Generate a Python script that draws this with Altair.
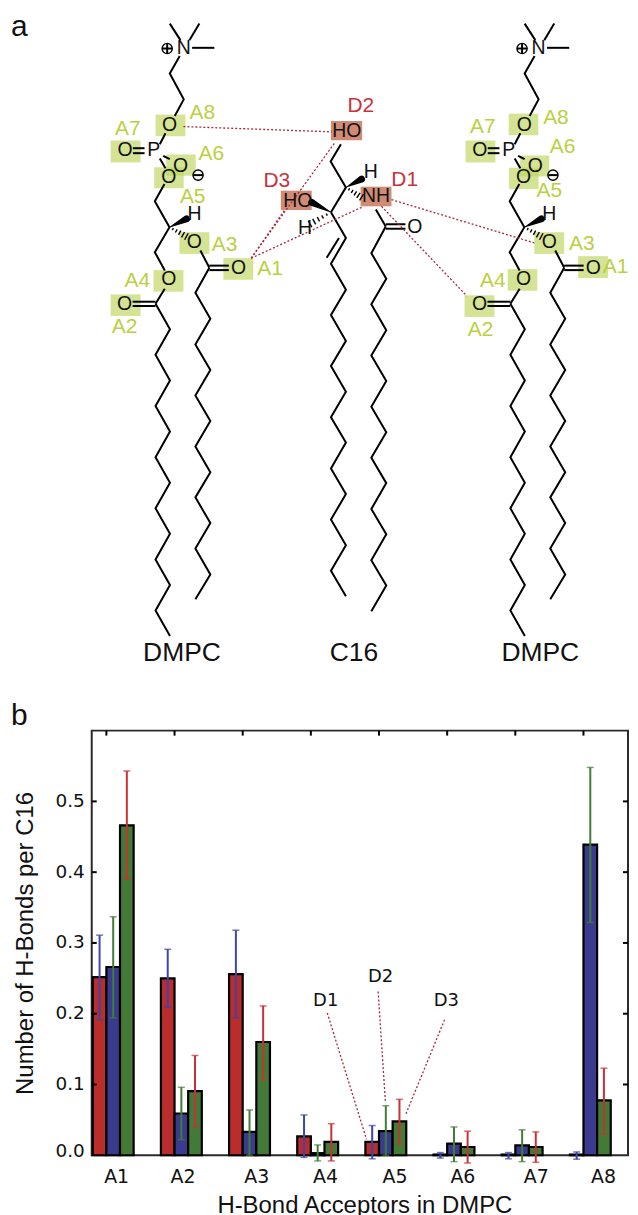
import altair as alt
import pandas as pd

FONT = "Liberation Sans"
TICK_FONT = "DejaVu Sans"

# ---------- Panel b data ----------
ACCEPTORS = [1, 2, 3, 4, 5, 6, 7, 8]
D1_VALS = [0.2516, 0.250, 0.256, 0.0268, 0.019, 0.001, 0.001, 0.001]
D2_VALS = [0.266, 0.059, 0.033, 0.003, 0.034, 0.0164, 0.014, 0.439]
D3_VALS = [0.466, 0.0906, 0.16, 0.019, 0.048, 0.0117, 0.0117, 0.0775]
D1_HI = [0.311, 0.291, 0.318, 0.057, 0.042, 0.0038, 0.0038, 0.0047]
D1_LO = [0.1915, 0.209, 0.194, -0.003, -0.005, -0.004, -0.005, -0.0056]
D2_HI = [0.337, 0.096, 0.064, 0.0146, 0.07, 0.04, 0.036, 0.548]
D2_LO = [0.194, 0.022, 0.0, -0.008, 0.0, -0.009, -0.009, 0.329]
D3_HI = [0.543, 0.141, 0.211, 0.0446, 0.079, 0.034, 0.033, 0.123]
D3_LO = [0.39, 0.04, 0.1066, -0.008, 0.016, -0.011, -0.01, 0.03]
X_LABEL_POS = [1.143, 2.116, 3.198, 4.207, 5.227, 6.223, 7.30, 8.287]
Y_TICKS = [0.0, 0.1, 0.2, 0.3, 0.4, 0.5]
BAR_NOTES = ["D1", "D2", "D3"]
BAR_NOTE_X = [4.218, 5.022, 5.987]
BAR_NOTE_Y = [0.2183, 0.2525, 0.2183]
NOTE_LINE_X = [4.241, 4.987, 5.962]
NOTE_LINE_Y = [0.201, 0.2314, 0.1915]
NOTE_LINE_X2 = [4.817, 5.095, 5.392]
NOTE_LINE_Y2 = [0.0225, 0.0742, 0.0577]

# ---------- Panel a data (diagram units) ----------
SHIFT = 356
HEAD_PATHS = [
    [(180, 37.3), (169.3, 20.7)],
    [(189, 37.3), (199, 20.7)],
    [(191.7, 45), (214, 45)],
    [(179.3, 53.3), (169.3, 70.7), (183.3, 96.7), (174.3, 113.3)],
    [(165, 130.7), (159.3, 141.7)],
    [(132.3, 145.7), (144, 145.7)],
    [(132.3, 150.7), (144, 150.7)],
    [(162.7, 153.3), (169.3, 156.7)],
    [(159.3, 156), (165, 165.7)],
    [(164, 181.7), (154.3, 199), (169, 225), (154.3, 250), (164.3, 268.3)],
    [(164.3, 286.7), (155, 301.7)],
    [(155, 299.7), (132, 299.7)],
    [(155, 304), (132, 304)],
    [(200, 248.3), (209, 265.7)],
    [(209, 263.5), (228.5, 263.5)],
    [(209, 268), (228.5, 268)],
    [(161.7, 45.7), (171.7, 45.7)],
    [(166.7, 41.2), (166.7, 50.2)],
    [(193, 172.7), (202.5, 172.7)],
]
CHAIN_A_X = [155, 169.5, 155, 169.5, 155, 169.5, 155, 169.5, 155, 169.5, 155, 169.5, 155, 169.5]
CHAIN_A_Y = [301.7, 327.3, 353, 378.7, 404.3, 430, 455.7, 481.3, 507, 532.6, 558.3, 584, 609.6, 635]
CHAIN_B_X = [209, 195, 210, 195, 210, 195, 210, 195, 210, 195, 210, 195, 210, 195]
CHAIN_B_Y = [265.7, 290.7, 316.7, 342.7, 368.3, 393.7, 419.3, 445, 470.7, 496, 521.7, 547.3, 573.3, 598.3]
C16_PATHS = [
    [(341, 141.7), (330.7, 159), (346, 185), (331, 210)],
    [(339, 235.7), (326.7, 255.7)],
    [(376, 207.3), (386, 224.3)],
    [(386, 222), (405.7, 222)],
    [(386, 226.5), (405.7, 226.5)],
]
C16_A_X = [331, 346, 331, 346, 331, 346, 331, 346, 331, 346, 331, 346, 331, 346, 331, 346]
C16_A_Y = [210, 235.7, 261.7, 287.7, 313, 339, 364.3, 390, 415.7, 441, 467, 492.7, 518.3, 544, 569.7, 595.3]
C16_B_X = [386, 371.5, 386.5, 371.5, 386.5, 371.5, 386.5, 371.5, 386.5, 371.5, 386.5, 371.5, 386.5, 371.5, 386.5, 371.5]
C16_B_Y = [224.3, 251, 276.7, 302.3, 328.3, 353.7, 379.3, 405, 430.7, 456.3, 481.7, 507.7, 533, 559, 584.3, 610.3]

WEDGES = [  # x0, y0, x1, y1
    (169, 225, 186, 216.7), (169 + SHIFT, 225, 186 + SHIFT, 216.7),
    (346, 185, 361.7, 176.7), (331, 210, 311.7, 200),
]
HASHES = [
    (169, 225, 186, 234.3), (169 + SHIFT, 225, 186 + SHIFT, 234.3),
    (346, 185, 361.7, 195), (331, 210, 310, 221.7),
]
CIRCLE_X = [166.7, 197.7, 522.7, 553.7]
CIRCLE_Y = [45.7, 172.7, 45.7, 172.7]

GREEN_BOXES = [
    (155, 112, 185, 133.7), (110, 138, 140, 160), (165.7, 152, 195.3, 173.3),
    (153.7, 164.7, 183.3, 186), (179, 230, 209, 251.7), (223, 256, 253, 277.7),
    (153, 268, 183, 289.7), (110, 292.3, 140, 314),
    (509.3, 111, 539, 132.7), (466, 138, 496, 160), (520.7, 153, 550, 174),
    (509.7, 165.3, 539.3, 186.7), (535, 230, 565, 251.7), (579, 254, 609, 276),
    (508.3, 267, 538, 288.7), (465, 293.3, 495, 315),
]
RED_BOXES = [(331, 118.3, 362.3, 137.7), (280.7, 188.3, 311.7, 207.7), (360.7, 184.3, 391.7, 204)]

ATOM_TEXT = ["N", "O", "P", "O", "O", "O", "O", "O", "O", "O", "H",
             "N", "O", "P", "O", "O", "O", "O", "O", "O", "O", "H",
             "HO", "HO", "NH", "O", "H", "H"]
ATOM_X = [183.3, 169, 153.3, 124.3, 180, 168.3, 194, 168.3, 124, 238.3, 194,
          539.3, 525, 509.3, 480.3, 536, 524.3, 550, 524.3, 480, 594.3, 550,
          347, 297.7, 376.3, 415, 371, 305]
ATOM_Y = [45, 122.7, 147.3, 147.7, 163.3, 174.3, 240, 277.3, 302.3, 265.7, 211.7,
          45, 122.7, 147.3, 147.7, 163.3, 174.3, 240, 277.3, 302.3, 265.7, 211.7,
          128.3, 198.3, 194, 225, 169.3, 225.7]

ACC_TEXT = ["A8", "A7", "A6", "A5", "A3", "A1", "A4", "A2"] * 2
ACC_X = [202, 127.3, 211, 192.3, 224.3, 270, 136.7, 124,
         556.7, 483.3, 563.3, 550, 582.7, 616.5, 493.3, 481]
ACC_Y = [110, 126, 151.7, 194.3, 243.3, 266.7, 279, 325,
         115.7, 124, 145, 189, 241.7, 265, 279, 328]

DON_TEXT = ["D2", "D3", "D1"]
DON_X = [361, 276.7, 405]
DON_Y = [103.3, 179, 177.7]

HB_X = [183, 251, 251, 251, 391.7, 381.7]
HB_Y = [124, 256, 256, 256, 197.3, 204]
HB_X2 = [331.7, 335, 284.3, 361.7, 535, 467.3]
HB_Y2 = [129.3, 140, 208, 205, 240.7, 294]

MOL_TEXT = ["DMPC", "C16", "DMPC"]
MOL_X = [181.5, 354, 541]
MOL_Y = [652, 652, 652]

PANEL_TEXT = ["a", "b"]
PANEL_X = [10, 10]
PANEL_Y = [33, 724]

PLOT_W = 538

# ---------- Build diagram tables ----------
def paths_frame():
    rows = []
    pid = 0
    def add(pts, dx=0):
        nonlocal pid
        for k, (x, y) in enumerate(pts):
            rows.append({"p": pid, "k": k, "x": x + dx, "y": y})
        pid += 1
    chain_a = list(zip(CHAIN_A_X, CHAIN_A_Y))
    chain_b = list(zip(CHAIN_B_X, CHAIN_B_Y))
    for dx in (0, SHIFT):
        for pts in HEAD_PATHS:
            add(pts, dx)
        add(chain_a, dx)
        add(chain_b, dx)
    for pts in C16_PATHS:
        add(pts)
    add(list(zip(C16_A_X, C16_A_Y)))
    add(list(zip(C16_B_X, C16_B_Y)))
    return pd.DataFrame(rows)


def wedge_frame():
    rows = []
    for i, (x0, y0, x1, y1) in enumerate(WEDGES):
        rows.append({"p": i, "k": 0, "x": x0, "y": y0, "w": 0.5})
        rows.append({"p": i, "k": 1, "x": x1, "y": y1, "w": 7})
    return pd.DataFrame(rows)


def hash_frame():
    rows = []
    for (x0, y0, x1, y1) in HASHES:
        dx, dy = x1 - x0, y1 - y0
        ln = (dx * dx + dy * dy) ** 0.5
        nx, ny = -dy / ln, dx / ln
        for j in range(1, 6):
            t = j / 5
            half = 0.5 + 3.2 * t
            cx, cy = x0 + dx * t, y0 + dy * t
            rows.append({"x": cx - nx * half, "y": cy - ny * half,
                         "x2": cx + nx * half, "y2": cy + ny * half})
    return pd.DataFrame(rows)


def box_frame(boxes):
    return pd.DataFrame(boxes, columns=["x", "y", "x2", "y2"])


DX = alt.Scale(domain=[91, 91 + PLOT_W])
DY = alt.Scale(domain=[700, 8])
PX = alt.X("x:Q", scale=DX, axis=None)
PY = alt.Y("y:Q", scale=DY, axis=None)


def text_layer(texts, xs, ys, size, color, align="center", baseline="middle"):
    df = pd.DataFrame({"x": xs, "y": ys, "t": texts})
    return alt.Chart(df).mark_text(font=FONT, fontSize=size, color=color, baseline=baseline,
                                   align=align).encode(x=PX, y=PY, text="t:N")


def box_layer(boxes, color, opacity):
    return alt.Chart(box_frame(boxes)).mark_rect(color=color, opacity=opacity).encode(
        x=PX, x2="x2:Q", y=PY, y2="y2:Q")


diagram = alt.layer(
    box_layer(GREEN_BOXES, "#bdd65a", 0.65),
    box_layer(RED_BOXES, "#d18b74", 1),
    alt.Chart(paths_frame()).mark_line(color="#000000", strokeWidth=2).encode(
        x=PX, y=PY, detail="p:N", order="k:Q"),
    alt.Chart(wedge_frame()).mark_trail(color="#000000").encode(
        x=PX, y=PY, detail="p:N", order="k:Q", size=alt.Size("w:Q", scale=None, legend=None)),
    alt.Chart(hash_frame()).mark_rule(color="#000000", strokeWidth=1.4).encode(
        x=PX, x2="x2:Q", y=PY, y2="y2:Q"),
    alt.Chart(pd.DataFrame({"x": CIRCLE_X, "y": CIRCLE_Y})).mark_point(
        shape="circle", filled=False, color="#000000", size=105, strokeWidth=1.4, opacity=1
    ).encode(x=PX, y=PY),
    alt.Chart(pd.DataFrame({"x": HB_X, "y": HB_Y, "x2": HB_X2, "y2": HB_Y2})).mark_rule(
        color="#a8283c", strokeWidth=1.3, strokeDash=[2, 2]).encode(
        x=PX, x2="x2:Q", y=PY, y2="y2:Q"),
    text_layer(ATOM_TEXT, ATOM_X, ATOM_Y, 19.5, "#111111"),
    text_layer(ACC_TEXT, ACC_X, ACC_Y, 21, "#bad03f"),
    text_layer(DON_TEXT, DON_X, DON_Y, 21, "#c8323c"),
    text_layer(MOL_TEXT, MOL_X, MOL_Y, 26.5, "#111111"),
    text_layer(PANEL_TEXT, PANEL_X, PANEL_Y, 30, "#111111", align="left", baseline="alphabetic"),
).properties(width=PLOT_W, height=692, view=alt.ViewConfig(stroke="transparent"))

# ---------- Bar panel ----------
BAR_W = 0.2
rows = []
for name, vals, lo_off in (("D1", D1_VALS, -0.2), ("D2", D2_VALS, 0.0), ("D3", D3_VALS, 0.2)):
    for a, v in zip(ACCEPTORS, vals):
        rows.append({"x": a + lo_off, "x2": a + lo_off + BAR_W, "y": v, "y0": 0.0, "d": name})
bars_df = pd.DataFrame(rows)

rows = []
for name, hi, lo, off in (("D1", D1_HI, D1_LO, -0.1), ("D2", D2_HI, D2_LO, 0.1), ("D3", D3_HI, D3_LO, 0.3)):
    for a, h, l in zip(ACCEPTORS, hi, lo):
        rows.append({"x": a + off, "hi": h, "lo": l, "d": name})
err_df = pd.DataFrame(rows)

BX = alt.Scale(domain=[0.785, 0.785 + PLOT_W / 68.375])
BY = alt.Scale(domain=[0, 0.6])
bar_colors = alt.Scale(domain=["D1", "D2", "D3"], range=["#b92d2d", "#3a3b8e", "#447a38"])
err_colors = alt.Scale(domain=["D1", "D2", "D3"], range=["#3c45a8", "#417d37", "#c83232"])

X_AXIS = alt.Axis(values=X_LABEL_POS, labelExpr="'A' + round(datum.value - 0.2)",
                  tickSize=0, domain=False, grid=False, labelFontSize=19, titleFontSize=24,
                  labelFont=TICK_FONT, titleFont=FONT, titleFontWeight="normal",
                  labelColor="#111111", titleColor="#111111", labelPadding=12, titlePadding=7,
                  labelOverlap=False, titleX=(91 + 638) / 2 - 91)
Y_AXIS = alt.Axis(values=Y_TICKS, format=".1f", tickSize=0, domain=False, grid=False,
                  labelFontSize=18.5, titleFontSize=24, labelFont=TICK_FONT, titleFont=FONT,
                  titleFontWeight="normal", labelColor="#111111", titleColor="#111111",
                  labelFlush=True, labelFlushOffset=6, labelOffset=-1,
                  labelPadding=7.5, titlePadding=17, labelOverlap=False)
X_TITLE = "H-Bond Acceptors in DMPC"
Y_TITLE = "Number of H-Bonds per C16"
bx = alt.X("x:Q", scale=BX, axis=X_AXIS, title=X_TITLE)
by = alt.Y("y:Q", scale=BY, axis=Y_AXIS, title=Y_TITLE)
by_hi = alt.Y("hi:Q", scale=BY, axis=Y_AXIS, title=Y_TITLE)
by_lo = alt.Y("lo:Q", scale=BY, axis=Y_AXIS, title=Y_TITLE)

bars = alt.Chart(bars_df).mark_rect(stroke="#000000", strokeWidth=2.2).encode(
    x=bx, x2="x2:Q", y=by, y2="y0:Q",
    fill=alt.Fill("d:N", scale=bar_colors, legend=None))

stems = alt.Chart(err_df).mark_rule(strokeWidth=2).encode(
    x=bx, y=by_hi, y2="lo:Q",
    color=alt.Color("d:N", scale=err_colors, legend=None))
caps_hi = alt.Chart(err_df).mark_tick(orient="horizontal", size=7, thickness=1.5).encode(
    x=bx, y=by_hi, color=alt.Color("d:N", scale=err_colors, legend=None))
caps_lo = alt.Chart(err_df).mark_tick(orient="horizontal", size=7, thickness=1.5).encode(
    x=bx, y=by_lo, color=alt.Color("d:N", scale=err_colors, legend=None))

top_ticks = alt.Chart(pd.DataFrame({"x": ACCEPTORS})).mark_rule(color="#000000", strokeWidth=2).encode(
    x=bx, y=alt.value(0), y2=alt.value(5))
left_ticks = alt.Chart(pd.DataFrame({"y": Y_TICKS[1:]})).mark_rule(color="#000000", strokeWidth=2).encode(
    y=by, x=alt.value(0), x2=alt.value(5))
right_ticks = alt.Chart(pd.DataFrame({"y": Y_TICKS[1:]})).mark_rule(color="#000000", strokeWidth=2).encode(
    y=by, x=alt.value(PLOT_W - 5), x2=alt.value(PLOT_W))

note_lines = alt.Chart(pd.DataFrame({"x": NOTE_LINE_X, "y": NOTE_LINE_Y, "x2": NOTE_LINE_X2, "y2": NOTE_LINE_Y2})
                       ).mark_rule(color="#a8283c", strokeWidth=1.3, strokeDash=[2, 2]).encode(
    x=bx, x2="x2:Q", y=by, y2="y2:Q")
note_text = alt.Chart(pd.DataFrame({"x": BAR_NOTE_X, "y": BAR_NOTE_Y, "t": BAR_NOTES})).mark_text(
    font=TICK_FONT, fontSize=18, color="#111111").encode(x=bx, y=by, text="t:N")

bar_panel = alt.layer(
    bars, top_ticks, left_ticks, right_ticks, stems, caps_hi, caps_lo, note_lines, note_text
).properties(width=PLOT_W, height=426, view=alt.ViewConfig(stroke="#2a2a2a", strokeWidth=2))

chart = alt.vconcat(diagram, bar_panel, spacing=30, bounds="flush").properties(
    padding={"left": 2, "top": 0, "right": 0, "bottom": 0}
).resolve_scale(x="independent", y="independent", color="independent", fill="independent")

chart.save("out.html", embed_options={"renderer": "svg", "actions": False})
